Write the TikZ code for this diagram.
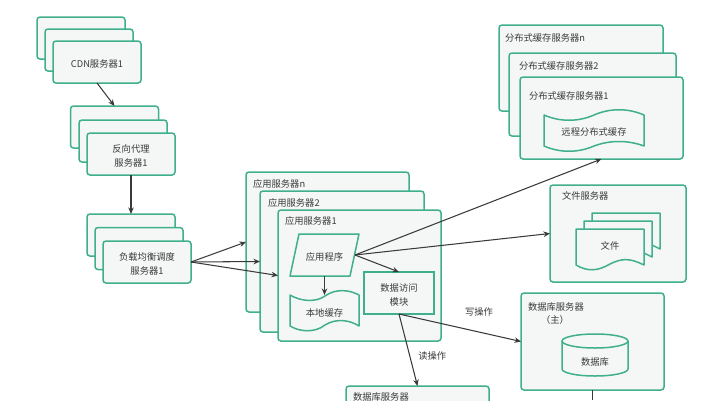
\documentclass[tikz,border=0pt]{standalone}
\usepackage{fontspec}
\setmainfont{Noto Sans CJK SC}
\usetikzlibrary{arrows.meta}
\definecolor{gb}{HTML}{3FAF8D}
\definecolor{gf}{HTML}{F4F7F6}
\definecolor{tx}{HTML}{3A3A3A}
\newcommand{\dn}{\rule{0pt}{11pt}}
\tikzset{
  srvbox/.style={draw=gb,fill=gf,line width=1.5pt,rounded corners=3pt,inner sep=0pt,outer sep=0pt,align=center,text=tx,font=\fontsize{9.3}{14}\selectfont},
  plainbox/.style={srvbox,rounded corners=0pt},
  label text/.style={inner sep=0pt,outer sep=0pt,text=tx,font=\fontsize{9.3}{14}\selectfont,align=center},
  title text/.style={label text,anchor=west},
  shapeline/.style={draw=gb,fill=gf,line width=1.5pt,line join=round},
  conn/.style={draw=tx,line width=1.05pt,-{Stealth[length=6.5pt,width=5.5pt]}},
  sz/.style n args={2}{minimum width=#1pt,minimum height=#2pt}
}
\begin{document}
\begin{tikzpicture}[x=1pt,y=-1pt]
\useasboundingbox (0,0) rectangle (721,400);
\fill[white] (0,0) rectangle (721,400);
% CDN
\node[srvbox,sz={88}{42}] (cdn3) at (81,38) {};
\node[srvbox,sz={88}{42}] (cdn2) at (89,50) {};
\node[srvbox,sz={88}{42}] (cdn1) at (97,62) {\dn CDN服务器1};
% reverse proxy
\node[srvbox,sz={88}{42}] (rp3) at (114.5,127) {};
\node[srvbox,sz={88}{42}] (rp2) at (123,141) {};
\node[srvbox,sz={88}{42}] (rp1) at (131,154) {\dn 反向代理\\服务器1};
% load balancer
\node[srvbox,sz={88}{42}] (lb3) at (131,235) {};
\node[srvbox,sz={88}{42}] (lb2) at (139,248.5) {};
\node[srvbox,sz={88}{42}] (lb1) at (147,262) {\dn 负载均衡调度\\服务器1};
% application servers
\node[srvbox,sz={163}{140}] (appn) at (327.5,242) {};
\node[title text] (appnt) at (253,184) {应用服务器n};
\node[srvbox,sz={164}{141}] (app2) at (342,261.5) {};
\node[title text] (app2t) at (268,203) {应用服务器2};
\node[srvbox,sz={163}{131}] (app1) at (359.5,275.5) {};
\node[title text] (app1t) at (285,221) {应用服务器1};
% application program
\draw[shapeline] (299,234) -- (359,234) -- (350,276) -- (290,276) -- cycle;
\node[label text,sz={61}{42}] (prog) at (324.5,255) {\dn 应用程序};
% local cache
\draw[shapeline] (290,295) .. controls (300,301) and (315,303) .. (325,296) .. controls (336,288) and (350,290) .. (359,295) -- (359,326) .. controls (350,320) and (336,318) .. (325,325) .. controls (315,333) and (300,332) .. (290,326) -- cycle;
\node[label text] (cache) at (324.5,313) {本地缓存};
\coordinate (cachetop) at (324.5,295);
% data access
\node[plainbox,sz={70}{42}] (data) at (399,293) {\dn 数据访问\\模块};
% distributed cache
\node[srvbox,sz={164}{86}] (distn) at (581,68) {};
\node[title text] (distnt) at (505,38) {分布式缓存服务器n};
\node[srvbox,sz={167}{83}] (dist2) at (592.5,94.5) {};
\node[title text] (dist2t) at (519,66) {分布式缓存服务器2};
\node[srvbox,sz={163}{82}] (dist1) at (601.5,118) {};
\node[title text] (dist1t) at (529,96) {分布式缓存服务器1};
\draw[shapeline] (544,115) .. controls (560,122) and (578,122) .. (594,115) .. controls (610,108) and (628,108) .. (644,115) -- (644,146) .. controls (628,140) and (610,140) .. (594,146) .. controls (578,153) and (560,153) .. (544,146) -- cycle;
\node[label text] (remote) at (594,132) {远程分布式缓存};
% file server
\node[srvbox,sz={136}{97}] (file) at (618,233.5) {};
\node[title text] (filet) at (562,196) {文件服务器};
\draw[shapeline] (592,245) -- (592,213) -- (660,213) -- (660,249) -- (652,245) -- cycle;
\draw[shapeline] (584,253) -- (584,221) -- (652,221) -- (652,257) -- (644,253) -- cycle;
\draw[shapeline] (576,229) -- (644,229) -- (644,265) .. controls (630,258) and (622,258) .. (610,264) .. controls (598,271) and (588,272) .. (576,265) -- cycle;
\node[label text] (doc) at (610,246) {文件};
% master database
\node[srvbox,sz={143}{97}] (dbm) at (592.5,341.5) {};
\node[title text] (dbmt) at (528,307) {数据库服务器};
\node[label text] (dbmz) at (555,320) {（主）};
\draw[shapeline] (562,341) -- (562,369) arc[start angle=180,end angle=0,x radius=33pt,y radius=-7pt] -- (628,341);
\draw[shapeline] (595,341) ellipse [x radius=33pt,y radius=7pt];
\node[label text] (db) at (595,362) {数据库};
% slave database
\node[srvbox,sz={143}{60}] (dbs) at (417.5,416) {};
\node[title text] (dbst) at (353,397) {数据库服务器};
\coordinate (dbmout) at (592.5,400);
% connectors
\draw[conn] (cdn1.south) -- (rp3.north);
\draw[conn] (rp1.south) -- (lb3.north);
\draw[conn] (lb1.east) -- (appn.west);
\draw[conn] (lb1.east) -- (app2.west);
\draw[conn] (lb1.east) -- (app1.west);
\draw[conn] (prog.south) -- (cachetop);
\draw[conn] (prog.east) -- (data.north);
\draw[conn] (prog.east) -- (dist1.south);
\draw[conn] (prog.east) -- (file.west);
\draw[conn] (data.south) -- node[label text,pos=0.5,xshift=24pt,yshift=-6pt] (rd) {读操作} (dbs.north);
\draw[conn] (data.south) -- node[label text,pos=0.5,xshift=19pt,yshift=16pt] (wr) {写操作} (dbm.west);
\draw[draw=tx,line width=1.05pt] (dbm.south) -- (dbmout);
\end{tikzpicture}
\end{document}
